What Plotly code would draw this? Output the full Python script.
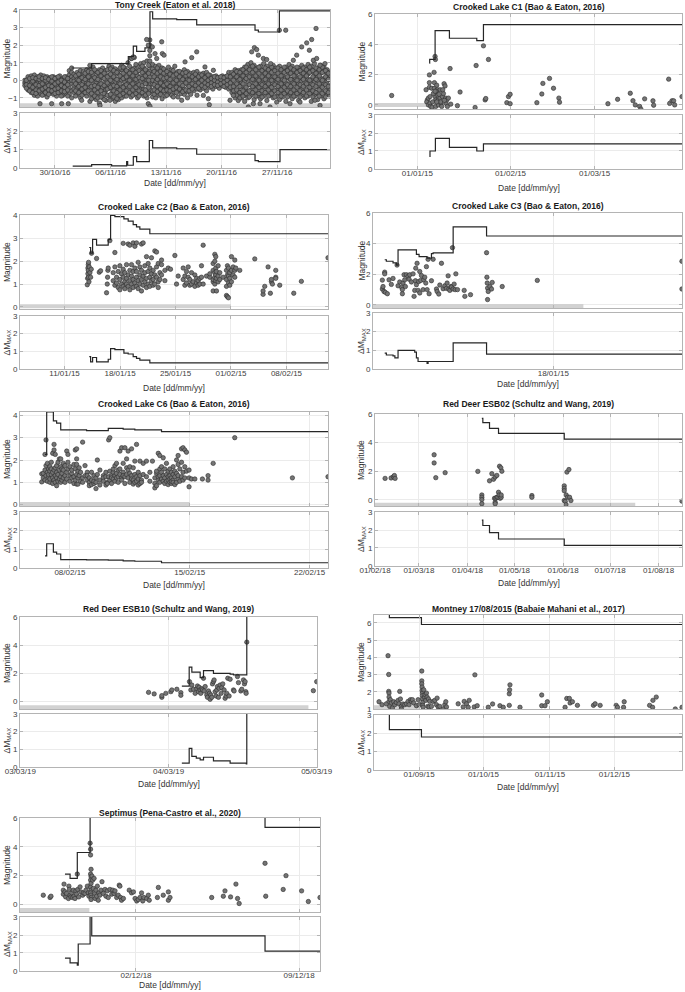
import pandas as pd
import plotly.graph_objects as go

W, H = 685, 992
FONT = "Liberation Sans, Arial, Helvetica, sans-serif"

# ====================== DATA ======================
# ---- Tony Creek (days after 2016-10-30) ----
tony_cols = [
    (-3.8, [-0.15, -0.3, 0.0]), (-3.4, [-0.1, -0.35, 0.1, -0.55, 0.2]),
    (-3.0, [-0.2, -0.5, 0.05, 0.25, -0.7]), (-2.6, [-0.3, 0.1, -0.6, -0.15, 0.3, -0.85]),
    (-2.2, [-0.4, 0.0, -0.2, 0.2, -0.65, -0.9]), (-1.8, [-0.1, -0.45, 0.15, -0.75, 0.3, -0.3]),
    (-1.4, [-0.25, 0.05, -0.55, 0.25, -0.8, -0.05]), (-1.0, [-0.35, -0.1, 0.1, -0.6, 0.2, -0.95]),
    (-0.6, [-0.2, -0.5, 0.0, 0.15, -0.7, -0.35]), (-0.2, [-0.15, -0.45, 0.1, -0.8, 0.2, -0.3]),
    (0.2, [-0.3, 0.0, -0.6, 0.15, -0.9, -0.1]), (0.6, [-0.4, -0.15, 0.05, -0.7, 0.25, -0.55]),
    (1.0, [-0.2, -0.5, 0.1, -0.85, 0.0, -0.35]), (1.4, [-0.3, 0.05, -0.6, -0.15, 0.2, -0.75]),
    (1.8, [-0.1, 0.3, -0.45, -0.8, 0.55, 0.1]), (2.1, [0.7, 0.45, 0.2, -0.2, -0.6, -1.0, 0.0]),
    (2.4, [-0.3, 0.1, -0.7, 0.35, -0.5, -0.05]), (2.8, [-0.45, -0.1, 0.2, -0.8, 0.45, -0.25, 0.05]),
    (3.2, [-0.2, 0.3, -0.6, -1.0, 0.1, -0.4, 0.55]), (3.6, [-0.35, 0.0, -0.75, 0.25, -0.5, 0.5, -0.1]),
    (4.0, [-0.15, 0.35, -0.55, -0.9, 0.1, -0.3, 0.6]), (4.4, [0.85, 0.6, 0.3, 0.0, -0.4, -0.8, -1.2, 0.15]),
    (4.8, [0.75, 0.4, -0.2, -0.6, -1.0, 0.1, -0.4]), (5.2, [-0.3, 0.2, -0.7, 0.5, -0.1, -1.1, 0.05]),
    (5.6, [-0.5, 0.0, 0.35, -0.85, -0.25, 0.6, -1.3]), (6.0, [-0.2, 0.45, -0.6, 0.15, -1.0, -0.4, 0.7]),
    (6.4, [0.0, -0.35, 0.55, -0.8, 0.25, -1.15, -0.55]), (6.8, [-0.45, 0.3, -0.1, 0.65, -0.9, -0.25, 0.8]),
    (7.2, [0.1, -0.6, 0.5, -0.3, -1.05, 0.75, -0.05]), (7.6, [-0.2, 0.4, -0.75, 0.1, -1.2, 0.65, -0.45]),
    (8.0, [0.0, -0.5, 0.35, -0.9, 0.55, -0.25, -1.1]), (8.4, [-0.35, 0.2, -0.7, 0.6, 0.0, -1.0, 0.85]),
    (8.8, [-0.1, 0.45, -0.55, -0.9, 0.15, 0.7, -0.3]), (9.2, [0.2, -0.4, 0.5, -0.75, 0.0, 1.0, -0.2]),
    (9.6, [-0.25, 0.3, -0.6, 0.6, 0.05, -0.95, 1.25]), (10.0, [0.1, -0.45, 0.4, -0.8, 0.7, -0.15, 1.3]),
    (10.4, [-0.05, 0.5, -0.6, 0.25, -1.0, 0.8, -0.3]), (10.8, [0.2, -0.35, 0.6, -0.75, 0.0, 0.95, -0.55]),
    (11.2, [-0.15, 0.4, -0.5, 0.7, -0.9, 0.1, 1.0]), (11.6, [0.3, -0.2, 0.55, -0.65, 0.0, 1.1, -1.0]),
    (11.95, [2.3, 2.0, 1.7, 1.4, 1.1, 0.8, 0.5, 0.2, -0.1, -0.4, -0.7]),
    (12.3, [-0.2, 0.35, -0.6, 0.65, 0.0, -0.95, 0.9]), (12.7, [0.15, -0.4, 0.5, -0.7, 0.8, -0.1, -1.0]),
    (13.1, [-0.3, 0.25, -0.55, 0.6, 0.0, 0.85, -0.85]), (13.5, [0.05, -0.45, 0.4, -0.7, 0.7, -0.2, -1.05]),
    (13.9, [-0.1, 0.3, -0.6, 0.55, -0.35, 0.0, -0.9]), (14.3, [0.2, -0.3, 0.45, -0.75, 0.05, -0.5, 0.75]),
    (14.7, [-0.2, 0.35, -0.55, 0.6, -0.05, -0.85]), (15.1, [0.1, -0.4, 0.4, -0.7, 0.8, -0.15]),
    (15.5, [-0.3, 0.2, -0.6, 0.5, 0.0, -0.95]), (15.9, [0.05, -0.35, 0.45, -0.75, 0.25, -0.55]),
    (16.3, [-0.15, 0.3, -0.5, 0.6, 0.0, -0.8]), (16.7, [0.2, -0.25, 0.5, -0.65, 0.05, -1.0]),
    (17.1, [-0.05, 0.4, -0.45, 0.2, -0.8]), (17.5, [0.15, -0.3, 0.45, -0.6, 0.0]),
    (17.9, [-0.1, 0.3, -0.5, 0.5, -0.85]), (18.3, [0.05, -0.3, 0.35, -0.55, 0.15]),
    (18.7, [-0.15, 0.2, -0.45, 0.4]), (19.1, [0.0, -0.3, 0.25, -0.6, 0.45]),
    (19.5, [-0.1, 0.15, -0.4, 0.3]), (19.9, [0.05, -0.25, 0.2, -0.5]),
    (20.3, [-0.15, 0.1, -0.35, 0.25]), (20.7, [0.0, -0.2, 0.15, -0.45]),
    (21.1, [-0.1, 0.1, -0.3, 0.25]), (21.5, [0.05, -0.2, 0.2, -0.4]),
    (21.9, [0.1, -0.15, 0.3, -0.5, 0.45]), (22.3, [-0.1, 0.25, -0.45, 0.45, -0.7]),
    (22.7, [0.1, -0.3, 0.4, -0.7, 0.6, -1.0]), (23.1, [-0.2, 0.3, -0.55, 0.55, -0.85, 0.0, -1.15]),
    (23.5, [0.15, -0.35, 0.6, -0.7, 0.35, -1.0, -0.1]), (23.9, [-0.05, 0.45, -0.5, 0.75, -0.85, 0.2, -1.2]),
    (24.3, [0.3, -0.25, 0.6, -0.65, 0.05, -1.0, 0.9]), (24.7, [-0.15, 0.4, -0.55, 0.75, -0.85, 0.15, 1.0]),
    (25.1, [0.2, -0.35, 0.55, -0.7, 0.0, 0.85, -1.1]), (25.5, [-0.1, 0.35, -0.6, 0.7, -0.9, 0.15, -0.3]),
    (25.9, [0.1, -0.4, 0.5, -0.75, 0.8, -0.15, -1.05]), (26.3, [-0.2, 0.3, -0.55, 0.6, -0.9, 0.05, 0.95]),
    (26.7, [0.15, -0.35, 0.5, -0.7, 0.8, -0.1, -1.15]), (27.1, [-0.05, 0.4, -0.5, 0.65, -0.85, 0.2, -0.3]),
    (27.5, [0.2, -0.3, 0.55, -0.65, 0.0, 0.85, -1.0]), (27.9, [-0.15, 0.35, -0.55, 0.7, -0.9, 0.1]),
    (28.3, [0.1, -0.4, 0.45, -0.75, 0.8, -0.2, -1.1]), (28.7, [-0.1, 0.3, -0.6, 0.6, -0.95, 0.05, -0.35]),
    (29.1, [0.15, -0.35, 0.5, -0.7, 0.75, -0.15, -1.2]), (29.5, [-0.2, 0.35, -0.55, 0.65, -0.85, 0.1, 0.9]),
    (29.9, [0.05, -0.4, 0.45, -0.75, 0.8, -0.1, -1.05]), (30.3, [-0.15, 0.3, -0.6, 0.55, -0.9, 0.15]),
    (30.7, [0.1, -0.35, 0.5, -0.7, 0.7, -0.2, -1.15]), (31.1, [-0.05, 0.4, -0.5, 0.6, -0.85, 0.2, 0.85]),
    (31.5, [0.15, -0.3, 0.45, -0.65, 0.75, -0.1, -1.0]), (31.9, [-0.2, 0.35, -0.55, 0.65, -0.9, 0.05, 0.9]),
    (32.3, [0.05, -0.4, 0.5, -0.7, 0.8, -0.2, -1.2]), (32.7, [-0.1, 0.3, -0.6, 0.6, -0.85, 0.15, 0.95]),
    (33.1, [0.2, -0.35, 0.45, -0.75, 0.7, -0.05, -1.1]), (33.5, [-0.15, 0.4, -0.5, 0.65, -0.9, 0.1, 0.85]),
    (33.9, [0.1, -0.3, 0.5, -0.7, 0.75, -0.2, -1.05]), (34.3, [-0.05, 0.35, -0.55, 0.6, -0.85, 0.15]),
    (34.6, [0.1, -0.3, 0.45, -0.6, 0.3, -0.9]),
]
tony_cols_mid = [
    (-3.6, [-0.25, -0.45, 0.0]), (-3.2, [-0.3, 0.1, -0.6]), (-2.8, [-0.05, -0.4, 0.15, -0.7]),
    (-2.4, [-0.25, -0.55, 0.1, -0.75]), (-2.0, [-0.3, 0.05, -0.6, 0.2]), (-1.6, [-0.2, -0.5, 0.1, -0.85]),
    (-1.2, [-0.4, 0.0, -0.7, 0.15]), (-0.8, [-0.3, 0.05, -0.55, -0.8]), (-0.4, [-0.05, -0.35, 0.2, -0.6]),
    (0.0, [-0.2, -0.5, 0.1, -0.75]), (0.4, [-0.1, -0.45, 0.2, -0.7]), (0.8, [-0.3, 0.0, -0.6, -0.9]),
    (1.2, [-0.1, -0.4, 0.2, -0.65]), (1.6, [-0.25, 0.1, -0.55, -0.9]), (2.6, [-0.2, 0.25, -0.6, -0.9]),
    (3.0, [0.0, -0.35, 0.35, -0.7]), (3.4, [-0.25, 0.15, -0.5, -0.85]), (3.8, [0.05, -0.4, 0.4, -0.7]),
    (4.2, [-0.2, 0.2, -0.6, 0.5]), (4.6, [0.0, -0.35, 0.45, -0.75, -1.05]), (5.0, [-0.3, 0.15, -0.55, 0.6, -0.9]),
    (5.4, [0.05, -0.4, 0.45, -0.7, -1.0]), (5.8, [-0.2, 0.25, -0.6, 0.55, -0.95]),
    (6.2, [0.1, -0.3, 0.4, -0.75, -1.1]), (6.6, [-0.15, 0.2, -0.5, 0.6, -0.85]),
    (7.0, [0.0, -0.4, 0.35, -0.8, 0.65]), (7.4, [-0.3, 0.2, -0.6, 0.55, -0.95]),
    (7.8, [0.05, -0.35, 0.45, -0.7, -1.05]), (8.2, [-0.2, 0.25, -0.55, 0.7, -0.85]),
    (8.6, [0.1, -0.4, 0.4, -0.75, 0.75]), (9.0, [-0.25, 0.2, -0.6, 0.55, -0.9]),
    (9.4, [0.0, -0.35, 0.4, -0.7, 0.8]), (9.8, [-0.2, 0.25, -0.55, 0.6, -0.85]),
    (10.2, [0.05, -0.4, 0.45, -0.75, 0.9]), (10.6, [-0.25, 0.15, -0.6, 0.55, -0.9]),
    (11.0, [0.1, -0.3, 0.45, -0.7, 0.8]), (11.4, [-0.2, 0.25, -0.55, 0.6, -0.85]),
    (11.8, [0.0, -0.4, 0.4, -0.75, 0.85]), (12.5, [-0.25, 0.2, -0.55, 0.5, -0.8]),
    (12.9, [0.05, -0.35, 0.4, -0.65, 0.7]), (13.3, [-0.15, 0.2, -0.5, 0.5, -0.8]),
    (13.7, [0.1, -0.3, 0.4, -0.6, 0.65]), (14.1, [-0.2, 0.15, -0.55, 0.5, -0.85]),
    (14.5, [0.05, -0.35, 0.35, -0.6]), (14.9, [-0.15, 0.25, -0.5, 0.55]),
    (15.3, [0.0, -0.4, 0.35, -0.7]), (15.7, [-0.2, 0.2, -0.5, 0.5]), (16.1, [0.05, -0.3, 0.4, -0.65]),
    (16.5, [-0.15, 0.25, -0.55, 0.45]), (16.9, [0.0, -0.35, 0.3, -0.6]), (17.3, [-0.2, 0.2, -0.5]),
    (17.7, [0.05, -0.3, 0.35]), (18.1, [-0.15, 0.2, -0.45]), (18.5, [0.0, -0.3, 0.3]),
    (18.9, [-0.15, 0.15, -0.4]), (19.3, [0.0, -0.25, 0.3]), (19.7, [-0.15, 0.1, -0.35]),
    (20.1, [0.0, -0.25, 0.2]), (20.5, [-0.1, 0.15, -0.3]), (20.9, [0.05, -0.2, 0.2]),
    (21.3, [-0.1, 0.15, -0.35]), (21.7, [0.0, -0.25, 0.25]), (22.1, [-0.15, 0.2, -0.4]),
    (22.5, [0.0, -0.35, 0.35, -0.6]), (22.9, [-0.2, 0.2, -0.55, 0.5, -0.85]),
    (23.3, [0.05, -0.35, 0.45, -0.7, -1.0]), (23.7, [-0.2, 0.25, -0.6, 0.6, -0.9]),
    (24.1, [0.1, -0.4, 0.45, -0.75, 0.75]), (24.5, [-0.25, 0.2, -0.6, 0.6, -0.95]),
    (24.9, [0.05, -0.35, 0.45, -0.7, 0.8]), (25.3, [-0.2, 0.25, -0.55, 0.6, -0.9]),
    (25.7, [0.0, -0.4, 0.4, -0.75, 0.75]), (26.1, [-0.25, 0.2, -0.6, 0.55, -0.95]),
    (26.5, [0.05, -0.35, 0.4, -0.7, 0.7]), (26.9, [-0.2, 0.25, -0.55, 0.6, -0.9]),
    (27.3, [0.0, -0.4, 0.45, -0.75, 0.75]), (27.7, [-0.25, 0.2, -0.6, 0.55, -0.95]),
    (28.1, [0.05, -0.35, 0.4, -0.7, 0.7]), (28.5, [-0.2, 0.25, -0.55, 0.6, -0.9]),
    (28.9, [0.0, -0.4, 0.45, -0.75, 0.75]), (29.3, [-0.25, 0.2, -0.6, 0.55, -0.95]),
    (29.7, [0.05, -0.35, 0.4, -0.7, 0.7]), (30.1, [-0.2, 0.25, -0.55, 0.6, -0.9]),
    (30.5, [0.0, -0.4, 0.45, -0.75, 0.75]), (30.9, [-0.25, 0.2, -0.6, 0.55, -0.95]),
    (31.3, [0.05, -0.35, 0.4, -0.7, 0.7]), (31.7, [-0.2, 0.25, -0.55, 0.6, -0.9]),
    (32.1, [0.0, -0.4, 0.45, -0.75, 0.75]), (32.5, [-0.25, 0.2, -0.6, 0.55, -0.95]),
    (32.9, [0.05, -0.35, 0.4, -0.7, 0.7]), (33.3, [-0.2, 0.25, -0.55, 0.6, -0.9]),
    (33.7, [0.0, -0.4, 0.45, -0.75, 0.75]), (34.1, [-0.25, 0.2, -0.6, 0.55, -0.95]),
    (34.45, [0.05, -0.35, 0.4, -0.7]),
]
tony_outliers = [
    (-1.89, -1.33), (-0.42, -1.33), (0.84, -1.33), (1.68, -1.33), (3.36, -1.14), (5.67, -1.43),
    (6.93, -1.14), (9.66, 1.24), (9.87, 1.33), (11.55, 2.32), (11.76, 2.0), (12.27, 1.9),
    (12.61, 1.52), (12.82, 1.24), (13.45, 2.19), (13.53, 1.52), (13.74, 1.43), (11.76, -1.33),
    (11.97, -1.48), (14.92, -0.95), (15.97, -1.14), (16.39, 1.05), (17.23, 1.29), (17.86, 1.62),
    (18.7, -0.86), (19.45, -1.39), (19.33, -1.05), (18.9, 0.76), (19.96, 0.57), (22.06, -1.14),
    (22.48, -0.86), (24.37, -1.52), (25.0, -1.33), (25.84, -1.33), (27.1, -1.52), (27.94, -1.24),
    (24.79, 1.62), (25.13, 1.86), (25.42, 1.75), (25.63, 1.43), (26.26, 1.24), (26.68, 1.18),
    (27.18, 0.95), (28.28, 2.85), (29.08, 2.85), (30.04, 1.14), (30.46, 1.43), (31.09, 1.9),
    (31.72, 2.13), (32.06, 1.71), (32.35, 2.32), (32.9, 2.95), (32.56, 1.14), (32.98, 1.24),
    (29.62, -1.33), (30.88, -1.24), (32.77, -1.14), (33.4, -1.43), (33.4, 0.86), (34.03, 0.95),
]
tony_mmax = [(2.1, 0.7), (4.62, 0.95), (9.24, 1.35), (9.87, 1.95), (10.29, 1.65), (11.34, 1.85),
             (11.97, 3.9), (12.31, 3.5), (15.34, 3.45), (17.86, 3.15), (25.21, 2.85), (25.63, 2.75),
             (28.28, 3.95), (34.7, 3.95)]
tony_dm = [(2.23, 0.1), (4.62, 0.18), (7.14, 0.12), (9.03, 0.35), (9.16, 0.15), (9.87, 0.62),
           (10.29, 0.35), (11.89, 1.5), (12.31, 1.1), (15.34, 1.05), (17.86, 0.75), (25.21, 0.4),
           (25.63, 0.35), (28.36, 1.0), (34.7, 1.0)]
tony_mc = [(-4.5, -1.42), (34.7, -1.42)]

# ---- Crooked Lake C1 (days after 2015-01-01) ----
c1_pts = [
    (-8.56, 0.62), (2.89, 1.0), (3.33, 0.33), (3.11, 0.2), (3.67, 0.0), (3.67, 0.45), (4.0, 1.98),
    (4.0, 1.47), (4.0, 1.16), (4.22, 0.55), (4.22, 0.1), (4.44, -0.1), (4.78, 1.1), (4.89, -0.15),
    (5.56, 2.15), (5.67, 1.47), (5.67, 1.1), (5.89, 3.2), (6.0, 3.0), (5.89, 0.55), (6.11, 0.33),
    (6.11, -0.1), (6.44, 1.3), (6.67, 1.0), (6.78, 0.65), (7.0, 0.33), (7.0, 0.0), (7.56, 1.0),
    (7.56, 0.45), (7.89, 0.1), (8.11, -0.1), (8.33, 0.55), (8.67, 0.75), (8.89, 1.4), (9.22, 1.25),
    (9.44, 0.45), (9.56, 0.1), (9.78, 0.33), (10.0, -0.1), (10.33, 0.45), (10.89, 2.4), (11.11, 0.05),
    (13.33, -0.05), (14.22, 0.85), (19.22, -0.17), (19.56, 2.6), (22.0, 3.9), (22.56, 0.33),
    (22.78, 0.42), (23.67, 3.0), (29.78, 0.15), (30.33, 0.55), (30.89, 0.7), (30.89, 0.08),
    (39.78, 0.15), (41.44, 0.72), (41.78, 1.42), (44.0, 1.75), (45.33, 1.1), (47.11, 0.45),
    (47.33, 0.18), (63.44, 0.08), (66.67, 0.37), (70.89, 0.77), (71.78, 0.28), (72.56, 0.0),
    (74.0, -0.1), (74.44, -0.28), (75.67, 0.4), (78.44, 0.27), (78.67, -0.02), (83.67, 1.7),
    (84.0, 0.1), (84.78, 0.27), (85.33, 0.27), (85.67, 0.0), (88.11, 0.55), (5.11, 0.2),
    (5.33, 0.75), (6.22, 0.9), (7.22, 0.7), (7.78, 0.2), (8.44, 1.0), (9.0, 0.3), (5.89, 0.9),
    (6.44, 0.2),
]
c1_mmax = [(4.0, 2.75), (4.1, 3.0), (5.9, 4.9), (10.67, 4.4), (19.78, 4.25), (22.0, 5.3), (88.3, 5.3)]
c1_dm = [(4.0, 0.7), (4.2, 1.0), (6.0, 1.7), (10.67, 1.2), (19.78, 1.0), (22.0, 1.4), (88.3, 1.4)]
c1_mc = [(-14.2, 0.0), (3.7, 0.0)]

# ---- Crooked Lake C2 (days after 2015-01-25) ----
c2_cols = [
    (-11.13, [0.97]), (-11.09, [1.25]), (-11.05, [1.45, 1.7]), (-11.0, [1.85, 1.6]),
    (-10.97, [1.3, 1.95]), (-10.92, [1.1]), (-10.88, [1.75]), (-10.8, [1.5]), (-10.71, [1.3]),
    (-10.63, [1.65]), (-10.59, [2.35]), (-9.96, [2.12]), (-9.62, [1.52]), (-9.45, [1.58]),
    (-8.7, [0.62]), (-8.61, [1.0]), (-8.57, [1.3]), (-8.53, [1.6]), (-8.49, [1.7]), (-8.28, [2.9]),
    (-7.86, [1.15, 1.5]), (-7.65, [0.95, 1.75, 2.38]), (-7.44, [1.3, 1.05]), (-7.23, [1.55, 0.85]),
    (-7.02, [1.2, 1.8, 0.75]), (-6.81, [1.0, 1.45]), (-6.6, [1.3, 0.9, 1.65, 2.78]),
    (-6.39, [1.1, 1.5, 0.8]), (-6.18, [1.25, 1.85, 1.0]), (-5.97, [0.9, 1.4, 2.75]),
    (-5.76, [1.15, 1.6, 0.75, 2.7]), (-5.55, [1.0, 1.35, 1.85]), (-5.34, [1.2, 0.85, 1.55, 2.8]),
    (-5.13, [1.05, 1.7, 2.65]), (-4.92, [1.3, 0.9, 2.8, 1.55]), (-4.71, [1.15, 1.95, 0.8]),
    (-4.5, [1.4, 1.0, 1.75]), (-4.29, [1.2, 0.7, 2.75, 1.6]), (-4.08, [1.35, 0.95, 2.8]),
    (-3.87, [1.1, 1.8, 1.5]), (-3.66, [1.25, 0.85, 2.2]), (-3.45, [1.55, 1.0, 1.9]),
    (-3.24, [1.3, 0.9, 1.7]), (-3.03, [1.15, 1.45, 2.15]), (-2.82, [1.2, 1.6, 0.95]),
    (-2.61, [1.4, 2.45, 1.0]), (-2.39, [1.3, 2.4, 1.75]), (-2.18, [1.1, 1.9, 0.85]),
    (-1.97, [1.5, 1.2]), (-1.76, [1.85, 2.05, 1.4]), (-1.34, [1.15, 1.6]), (-0.92, [1.7]),
    (-0.63, [1.65]), (-0.08, [2.25]), (0.13, [1.0]), (0.34, [1.35]), (0.97, [1.2, 1.7]),
    (1.18, [1.35, 0.95]), (1.39, [1.05, 1.55]), (1.6, [1.75, 1.3]), (1.81, [0.95, 1.2]),
    (2.02, [1.5, 1.0]), (2.23, [1.1]), (2.44, [0.9, 1.4]), (2.65, [1.25, 1.05]), (2.86, [1.15, 0.95]),
    (3.07, [1.0, 1.25]), (3.28, [1.8, 1.3]), (3.49, [2.7, 1.0]), (3.91, [1.35]), (4.33, [1.3, 1.45]),
    (4.75, [1.1, 1.6, 1.9, 1.2, 0.7]), (4.96, [2.3, 1.5, 1.0, 1.3, 2.0]), (5.08, [1.7, 1.4, 1.15, 2.2]),
    (5.17, [1.25, 1.55, 0.7]), (5.38, [1.35, 1.1, 1.8]), (5.59, [1.2, 1.5]), (6.01, [1.3]),
    (6.43, [1.6, 1.2, 0.9, 0.5]), (6.55, [1.8, 1.4, 0.45]), (6.68, [1.05, 1.35, 0.4, 1.7]),
    (6.85, [1.5, 0.95, 1.25]), (7.06, [2.2, 1.1, 1.6]), (7.27, [1.4, 1.75]), (7.48, [2.05, 1.3, 1.6]),
    (7.61, [1.7]), (8.11, [1.6]), (10.0, [2.1]), (11.05, [0.55, 0.7]), (11.26, [0.9]), (11.68, [1.75]),
    (11.97, [0.6]), (12.1, [1.1, 1.2]), (12.23, [1.0]), (12.65, [1.6, 1.3, 1.25]), (13.15, [0.95]),
    (14.92, [0.6]), (15.88, [1.12]), (19.24, [2.15]),
]
c2_mmax = [(-10.88, 2.6), (-10.71, 2.35), (-10.46, 2.95), (-9.96, 2.7), (-8.49, 2.95), (-8.19, 4.0),
           (-7.65, 3.95), (-6.51, 3.85), (-5.97, 3.75), (-5.34, 3.6), (-4.92, 3.5), (-4.5, 3.4),
           (-3.24, 3.2), (19.4, 3.2)]
c2_dm = [(-10.88, 0.7), (-10.71, 0.4), (-10.46, 0.65), (-9.96, 0.4), (-8.49, 0.55), (-8.19, 1.15),
         (-7.65, 1.1), (-6.51, 0.9), (-5.97, 0.85), (-5.34, 0.7), (-4.92, 0.6), (-4.5, 0.5),
         (-3.24, 0.35), (19.4, 0.35)]
c2_mc = [(-19.7, 0.03), (7.0, 0.03)]

# ---- Crooked Lake C3 (days after 2015-01-11) ----
c3_pts = [
    (0.363, 1.04), (0.363, 1.62), (0.389, 1.2), (0.428, 0.88), (0.454, 2.14), (0.454, 2.03),
    (0.48, 0.82), (0.558, 0.73), (0.623, 1.64), (0.713, 1.34), (0.778, 1.73), (0.934, 2.6),
    (0.973, 1.25), (1.038, 1.5), (1.115, 1.14), (1.141, 1.0), (1.141, 0.73), (1.167, 1.43),
    (1.206, 1.97), (1.232, 1.64), (1.258, 1.2), (1.297, 1.97), (1.362, 1.86), (1.401, 1.68),
    (1.427, 1.97), (1.492, 1.5), (1.556, 2.03), (1.595, 0.56), (1.621, 0.95), (1.647, 1.58),
    (1.66, 2.4), (1.686, 1.32), (1.712, 2.72), (1.751, 0.95), (1.777, 1.53), (1.816, 0.78),
    (1.816, 2.18), (1.855, 1.6), (1.881, 1.92), (1.946, 1.0), (1.971, 1.64), (2.01, 1.81),
    (2.049, 1.43), (2.075, 2.5), (2.101, 1.0), (2.14, 2.98), (2.179, 0.73), (2.27, 1.58),
    (2.335, 2.98), (2.464, 1.04), (2.49, 0.88), (2.555, 0.71), (2.594, 1.3), (2.659, 2.72),
    (2.724, 1.06), (2.789, 1.25), (2.853, 1.08), (2.879, 1.43), (2.918, 1.9), (2.944, 1.04),
    (2.983, 0.95), (3.022, 1.2), (3.048, 1.17), (3.087, 3.74), (3.113, 1.04), (3.152, 1.36),
    (3.191, 1.0), (3.217, 2.03), (3.281, 1.0), (3.541, 0.95), (3.567, 0.56), (3.787, 0.67),
    (4.41, 3.41), (4.423, 1.81), (4.436, 1.43), (4.449, 1.1), (4.449, 0.35), (4.475, 0.88),
    (4.54, 1.2), (4.604, 1.04), (4.63, 1.47), (5.019, 1.2), (6.381, 1.6), (11.997, 2.85),
    (11.997, 1.04),
]
c3_mmax = [(0.454, 2.95), (0.519, 2.85), (0.778, 2.75), (0.908, 2.6), (0.973, 3.6), (1.686, 3.3),
           (1.79, 3.15), (2.1, 3.05), (2.27, 3.35), (2.335, 3.4), (3.113, 5.1), (4.41, 4.5), (12.1, 4.5)]
c3_dm = [(0.454, 0.85), (0.519, 0.75), (0.778, 0.7), (0.85, 0.6), (0.973, 1.0), (1.62, 0.9),
         (1.686, 0.6), (1.75, 0.4), (2.1, 0.3), (2.14, 0.4), (3.113, 1.4), (4.41, 0.8), (12.1, 0.8)]
c3_mc = [(-0.1, -0.07), (8.17, -0.07)]

# ---- Crooked Lake C6 (days after 2015-02-08) ----
c6_cols = [
    (-1.65, [1.38, 1.02]), (-1.56, [1.4, 1.2]), (-1.46, [2.25, 1.55, 1.1]), (-1.4, [2.9, 1.3, 1.75]),
    (-1.32, [1.45, 1.05, 1.85]), (-1.25, [1.6, 1.25, 1.35]), (-1.17, [1.5, 1.0, 1.15, 1.7]),
    (-1.09, [1.35, 1.6, 1.9]), (-1.01, [1.2, 1.45, 2.3, 0.95]), (-0.93, [2.45, 1.55, 1.1, 2.7]),
    (-0.86, [1.3, 1.0, 2.25, 1.65]), (-0.78, [1.2, 0.85, 1.45, 1.75]), (-0.7, [1.05, 1.35, 1.9]),
    (-0.62, [1.55, 1.15, 2.05]), (-0.54, [1.0, 1.25, 1.7, 2.05]), (-0.47, [1.4, 1.1, 1.6]),
    (-0.39, [1.2, 1.55, 1.85]), (-0.29, [1.0, 1.3, 1.75]), (-0.19, [1.15, 1.45, 2.4]),
    (-0.12, [1.6, 2.25, 1.9]), (0.0, [1.3, 1.05, 1.7]), (0.1, [1.4, 1.55, 1.2]), (0.23, [0.95, 1.25, 1.8]),
    (0.31, [1.1, 1.6, 2.45]), (0.39, [1.35, 0.92, 2.5, 1.8, 2.05]), (0.47, [1.2, 1.5, 0.92]),
    (0.54, [1.3, 1.65]), (0.62, [1.05, 1.45]), (0.74, [2.8, 1.2, 1.0]), (0.88, [1.75, 1.3]),
    (1.01, [1.1, 1.45, 1.3]), (1.13, [1.0, 1.2, 0.85]), (1.26, [1.45, 1.1, 0.9]), (1.4, [0.95, 1.3, 1.05]),
    (1.52, [0.72, 1.2, 1.0]), (1.6, [2.0, 1.35]), (1.75, [1.55, 1.1, 0.88]), (1.95, [1.3, 1.2, 1.05]),
    (2.1, [1.45, 1.25, 0.88]), (2.18, [1.0, 0.95]), (2.26, [1.25, 2.9]), (2.33, [3.0, 1.1, 1.5]),
    (2.43, [1.3, 0.95, 1.2]), (2.53, [1.15, 1.45, 1.6]), (2.63, [1.75, 1.3, 1.05]), (2.72, [1.4, 1.85, 1.2]),
    (2.82, [1.55, 1.0, 1.25]), (2.92, [2.4, 1.35, 1.6]), (3.02, [2.55, 1.2, 1.1]), (3.11, [1.45, 1.85, 1.3]),
    (3.21, [2.55, 1.25, 0.95]), (3.31, [1.65, 2.05, 1.35]), (3.4, [2.4, 1.2, 1.55]), (3.5, [1.0, 1.4, 1.7]),
    (3.6, [2.5, 1.3, 1.15]), (3.7, [1.65, 1.1, 0.92]), (3.79, [1.35, 1.95, 1.0]), (3.89, [2.7, 1.25, 1.05]),
    (3.99, [0.88, 1.45, 1.15]), (4.09, [1.95, 1.3, 0.95]), (4.18, [1.1, 1.0]), (4.28, [1.85, 1.35]),
    (4.47, [1.95, 1.25]), (4.67, [1.45, 1.05]), (4.82, [1.95]), (4.96, [0.75, 0.95, 1.2]),
    (5.06, [1.4, 0.85, 1.5]), (5.16, [2.3, 1.1, 1.25]), (5.25, [2.2, 1.0, 1.6, 1.3]),
    (5.35, [1.15, 1.45, 1.7]), (5.45, [2.1, 1.05, 1.3]), (5.54, [1.2, 1.6, 0.95]), (5.64, [1.35, 1.05, 1.85]),
    (5.74, [1.1, 1.5, 1.25, 0.9]), (5.84, [1.3, 1.0, 1.15, 1.6]), (5.93, [1.2, 1.45, 0.95, 1.05]),
    (6.03, [1.35, 1.1, 1.7, 1.0]), (6.13, [1.25, 1.5, 0.9]), (6.23, [1.0, 1.4, 2.0]),
    (6.32, [1.15, 1.3, 1.8, 2.2]), (6.42, [1.6, 1.05]), (6.52, [2.5, 1.25, 1.9]), (6.61, [2.55, 1.45, 1.1]),
    (6.71, [2.45, 1.7, 1.2]), (6.81, [2.35, 1.5]), (6.96, [0.8, 1.2, 1.55]), (7.1, [1.15]), (7.3, [1.15]),
    (7.74, [1.15]), (8.07, [1.1, 1.3]), (8.37, [1.85]), (9.63, [3.0]), (13.0, [1.2]), (15.08, [1.25]),
]
c6_mmax = [(-1.46, 2.25), (-1.36, 4.15), (-0.97, 3.75), (-0.78, 3.65), (-0.54, 3.35), (0.97, 3.32),
           (2.24, 3.42), (3.11, 3.38), (3.79, 3.35), (5.35, 3.27), (15.2, 3.27)]
c6_dm = [(-1.46, 0.65), (-1.36, 1.3), (-0.97, 0.85), (-0.78, 0.75), (-0.54, 0.45), (0.97, 0.43),
         (2.24, 0.42), (3.11, 0.38), (3.79, 0.36), (5.35, 0.28), (15.2, 0.28)]
c6_mc = [(-3.0, 0.03), (7.0, 0.03)]

# ---- Red Deer ESB02 (days after 2018-02-01) ----
esb02_pts = [
    (6.39, 1.5), (10.22, 1.53), (11.71, 1.62), (12.35, 1.7), (12.78, 1.5), (37.7, 3.15), (37.7, 2.58),
    (38.76, 1.55), (44.73, 1.9), (65.6, 1.99), (68.16, 0.34), (68.16, 0.18), (68.16, 0.02),
    (68.16, -0.27), (73.06, 1.33), (74.55, 1.83), (75.61, 1.44), (76.68, 1.6), (77.74, 1.71),
    (76.25, 0.11), (76.68, -0.16), (76.68, -0.27), (77.1, 0.11), (77.74, 0.18), (78.38, 0.18),
    (78.81, 0.53), (79.23, 0.34), (79.45, 2.35), (79.87, 0.11), (80.3, 2.24), (80.51, 0.18),
    (80.94, 2.0), (80.51, 0.34), (100.1, 0.3), (100.1, 0.18), (120.77, 0.98), (120.77, 0.8),
    (120.77, 0.64), (120.77, -0.05), (121.41, -0.11), (121.83, -0.34), (122.04, 0.34), (122.47, 1.94),
    (122.9, 0.18), (123.75, 2.12), (124.17, 0.18), (125.03, -0.05), (195.95, -0.09),
]
esb02_mmax = [(68.16, 5.7), (68.8, 5.4), (73.06, 5.0), (78.81, 4.65), (120.77, 4.25), (196.5, 4.25)]
esb02_dm = [(68.16, 2.55), (68.8, 2.25), (73.06, 1.85), (78.81, 1.5), (120.77, 1.15), (196.5, 1.15)]
esb02_mc = [(-1.0, -0.35), (166.1, -0.35)]

# ---- Red Deer ESB10 (hours after 2019-03-03 00:00) ----
esb10_pts = [
    (20.77, 0.66), (21.68, 0.55), (22.92, 0.31), (22.92, 0.43), (23.57, 0.59), (24.38, 0.71),
    (24.54, 0.83), (25.35, 0.88), (26.0, 0.64), (26.0, 0.45), (27.4, 1.42), (27.62, 0.83),
    (27.78, 1.18), (28.05, 0.88), (28.32, 0.59), (28.59, 0.92), (28.69, 1.11), (28.86, 0.71),
    (28.96, 1.02), (29.13, 0.83), (29.23, 0.59), (29.4, 0.92), (29.5, 0.83), (29.67, 1.66),
    (29.77, 0.76), (29.94, 1.07), (30.2, 0.47), (30.31, 0.31), (30.47, 0.76), (30.64, 0.59),
    (30.74, 0.17), (30.85, 0.47), (31.01, 0.31), (31.12, 1.26), (31.28, 1.42), (31.39, 1.54),
    (31.55, 0.71), (31.72, 0.4), (31.82, 0.83), (31.93, 1.07), (32.09, 0.31), (32.2, 0.95),
    (32.36, 1.18), (32.52, 0.59), (32.63, 0.99), (32.79, 1.26), (33.01, 0.83), (33.17, 0.24),
    (33.33, 0.4), (33.44, 0.59), (33.6, 1.66), (33.82, 0.4), (33.98, 1.59), (34.52, 0.83),
    (34.63, 0.76), (35.17, 1.78), (35.33, 1.35), (35.71, 0.76), (35.87, 0.88), (36.14, 1.54),
    (36.3, 1.26), (36.41, 1.42), (36.52, 0.71), (36.57, 0.59), (36.68, 4.22), (47.46, 0.78),
    (48.0, 1.42),
]
esb10_mmax = [(26.16, 1.1), (27.35, 2.45), (27.78, 2.1), (29.13, 1.7), (29.67, 2.2), (31.28, 2.0),
              (33.98, 1.95), (34.52, 1.9), (36.68, 8.0), (48.5, 8.0)]
esb10_dm = [(26.16, 0.22), (27.35, 1.05), (27.78, 0.6), (28.5, 0.5), (29.13, 0.4), (29.67, 0.55),
            (31.28, 0.35), (33.98, 0.22), (36.6, 0.18), (36.68, 5.0), (48.5, 5.0)]
esb10_mc = [(-1.0, -0.4), (46.66, -0.4)]

# ---- Montney 17/08/2015 (days after 2015-09-01) ----
mont_pts = [
    (-18.69, 1.42), (-17.29, 1.25), (-15.26, 1.3), (-14.49, 4.09), (-14.17, 3.0), (-14.17, 2.02),
    (-14.02, 1.92), (-14.02, 1.69), (-14.02, 1.44), (-13.71, 1.15), (-13.4, 1.54), (-12.93, 1.35),
    (-12.46, 1.06), (-11.84, 1.42), (-11.37, 1.25), (-10.59, 1.38), (-9.81, 1.5), (-9.35, 1.3),
    (-9.03, 2.02), (-8.72, 1.58), (-8.26, 1.15), (-8.26, 1.0), (-7.48, 1.29), (-6.7, 1.25),
    (-5.92, 1.3), (-5.14, 1.44), (-4.67, 1.25), (-4.05, 1.54), (-3.58, 1.44), (-3.12, 1.54),
    (-2.49, 1.35), (-1.25, 1.19), (-0.47, 1.54), (0.0, 1.25), (1.25, 3.2), (1.25, 2.63),
    (1.25, 2.46), (1.4, 2.27), (1.4, 2.06), (1.56, 1.92), (1.56, 1.77), (1.56, 1.58), (1.71, 1.38),
    (1.71, 1.21), (1.87, 1.1), (2.18, 2.11), (2.49, 1.69), (2.8, 1.83), (3.12, 1.5), (3.43, 1.92),
    (3.74, 1.69), (4.05, 1.15), (4.36, 1.58), (4.67, 1.12), (4.98, 1.44), (5.76, 1.15), (6.54, 1.44),
    (7.32, 1.5), (8.1, 1.25), (8.41, 1.63), (8.88, 1.12), (9.66, 1.15), (11.21, 1.0), (11.99, 1.25),
    (12.46, 1.42), (12.77, 1.12), (18.22, 1.3), (20.56, 1.12), (21.03, 1.44), (22.12, 1.3),
    (22.9, 1.1), (23.36, 1.5), (26.01, 2.98), (25.7, 1.12), (27.1, 1.19), (32.24, 1.1), (34.27, 1.29),
    (37.69, 1.19), (39.25, 1.1), (42.06, 1.21), (42.06, 1.88), (42.21, 2.11), (42.37, 2.4),
    (47.04, 1.1), (57.17, 1.81), (57.17, 1.19), (58.72, 1.19), (59.81, 1.42), (68.07, 1.1),
    (68.85, 1.61), (70.09, 1.61), (70.4, 1.35), (71.5, 1.42), (73.83, 1.21), (81.31, 1.21),
    (82.09, 1.3), (84.42, 1.21), (91.9, 1.21), (92.52, 1.1), (95.33, 1.1), (95.64, 1.42),
    (107.48, 1.21), (108.88, 1.1), (109.03, 1.5), (110.59, 1.69), (119.47, 1.0), (122.59, 1.1),
]
mont_mmax = [(-14.02, 7.0), (-13.86, 6.3), (1.09, 5.9), (123.0, 5.9)]
mont_dm = [(-14.02, 3.5), (-13.86, 2.2), (1.09, 1.8), (123.0, 1.8)]
mont_mc = [(-22.0, 1.1), (0.3, 1.1)]

# ---- Septimus (days after 2018-12-02) ----
sept_pts = [
    (-3.98, 0.63), (-3.69, 0.47), (-3.65, 0.56), (-3.12, 0.98), (-3.12, 0.7), (-3.09, 1.4),
    (-3.05, 0.86), (-3.02, 0.51), (-2.98, 0.75), (-2.9, 0.4), (-2.88, 1.26), (-2.86, 1.03),
    (-2.83, 0.63), (-2.79, 0.51), (-2.76, 0.79), (-2.72, 0.47), (-2.69, 0.98), (-2.66, 0.56),
    (-2.62, 0.4), (-2.58, 0.93), (-2.55, 0.7), (-2.52, 2.1), (-2.5, 1.03), (-2.46, 0.51),
    (-2.4, 1.21), (-2.36, 0.86), (-2.29, 0.63), (-2.26, 0.79), (-2.19, 0.75), (-2.15, 0.98),
    (-2.09, 1.26), (-2.05, 0.79), (-2.02, 0.56), (-1.97, 4.25), (-1.95, 3.83), (-1.95, 3.43),
    (-1.93, 2.43), (-1.95, 2.1), (-1.93, 1.92), (-1.95, 1.68), (-1.93, 1.45), (-1.95, 1.17),
    (-1.93, 0.98), (-1.95, 0.79), (-1.93, 0.63), (-1.92, 0.47), (-1.93, 0.33), (-1.89, 1.96),
    (-1.86, 1.68), (-1.83, 1.1), (-1.8, 1.8), (-1.77, 0.75), (-1.75, 0.4), (-1.72, 0.98),
    (-1.69, 0.56), (-1.66, 1.26), (-1.62, 0.28), (-1.59, 0.79), (-1.55, 0.63), (-1.5, 0.98),
    (-1.46, 1.57), (-1.4, 0.75), (-1.33, 1.03), (-1.29, 0.56), (-1.23, 0.93), (-1.19, 0.47),
    (-1.12, 1.03), (-1.04, 0.7), (-1.0, 0.98), (-0.94, 0.75), (-0.9, 0.93), (-0.83, 0.47),
    (-0.76, 0.63), (-0.72, 1.33), (-0.69, 1.26), (-0.66, 0.47), (-0.62, 0.28), (-0.54, 0.4),
    (-0.29, 0.98), (-0.19, 0.79), (-0.11, 0.86), (-0.04, 0.4), (0.03, 0.23), (0.1, 0.33),
    (0.17, 0.47), (0.24, 0.79), (0.29, 0.23), (0.34, 0.47), (0.46, 0.4), (0.53, 0.63), (0.57, 0.28),
    (0.92, 0.47), (0.96, 1.17), (1.17, 0.63), (1.39, 0.86), (1.39, 0.28), (1.46, 0.47), (3.25, 0.47),
    (3.75, 0.56), (3.82, 0.93), (4.06, 0.51), (4.29, 1.4), (4.36, 0.4), (4.43, 0.05), (5.54, 2.85),
    (5.57, 0.56), (6.32, 1.03), (6.44, 1.99), (7.11, 0.93), (7.4, 0.19), (7.9, 0.47),
]
sept_mmax = [(-3.05, 2.1), (-2.83, 1.8), (-2.52, 3.6), (-1.97, 8.0), (5.54, 5.35), (8.0, 5.35)]
sept_dm = [(-3.05, 0.72), (-2.83, 0.45), (-2.52, 0.32), (-2.48, 1.5), (-1.97, 3.5), (-1.9, 1.95),
           (5.54, 1.1), (8.0, 1.1)]
sept_mc = [(-5.1, -0.4), (-2.0, -0.4)]

# ---- per-panel options (titles, tick dates, axis ranges as offsets from base) ----
panels = [
    dict(title="Tony Creek (Eaton et al. 2018)", base="2016-10-30", unit="D",
         cols=tony_cols + tony_cols_mid, pts=tony_outliers, mmax=tony_mmax, dm=tony_dm, mc=tony_mc,
         xr=(-4.41, 34.66), ticks=["2016-10-30", "2016-11-06", "2016-11-13", "2016-11-20", "2016-11-27"],
         yr=(-1.52, 4.001), yt=[-1, 0, 1, 2, 3, 4],
         g=(20, 330, 10, 107, 113, 168, 5, 183, 7)),
    dict(title="Crooked Lake C1 (Bao & Eaton, 2016)", base="2015-01-01", unit="D",
         cols=[], pts=c1_pts, mmax=c1_mmax, dm=c1_dm, mc=c1_mc,
         xr=(-14.11, 88.11), ticks=["2015-01-01", "2015-02-01", "2015-03-01"],
         yr=(-0.27, 6.001), yt=[0, 2, 4, 6],
         g=(375, 682, 14, 109, 115, 169, 7, 188, 361)),
    dict(title="Crooked Lake C2 (Bao & Eaton, 2016)", base="2015-01-25", unit="D",
         cols=c2_cols, pts=[], mmax=c2_mmax, dm=c2_dm, mc=c2_mc,
         xr=(-19.62, 19.24), ticks=["2015-01-11", "2015-01-18", "2015-01-25", "2015-02-01", "2015-02-08"],
         yr=(-0.09, 4.02), yt=[0, 1, 2, 3, 4],
         g=(20, 328, 215, 309, 316, 369, 207, 388, 7)),
    dict(title="Crooked Lake C3 (Bao & Eaton, 2016)", base="2015-01-11", unit="D",
         cols=[], pts=c3_pts, mmax=c3_mmax, dm=c3_dm, mc=c3_mc,
         xr=(0.0, 12.0), ticks=["2015-01-18"],
         yr=(-0.2, 6.001), yt=[0, 2, 4, 6],
         g=(373, 682, 213, 308, 313, 369, 206, 384, 361)),
    dict(title="Crooked Lake C6 (Bao & Eaton, 2016)", base="2015-02-08", unit="D",
         cols=c6_cols, pts=[], mmax=c6_mmax, dm=c6_dm, mc=c6_mc,
         xr=(-2.92, 15.08), ticks=["2015-02-08", "2015-02-15", "2015-02-22"],
         yr=(-0.06, 4.15), yt=[0, 1, 2, 3, 4],
         g=(20, 328, 412, 506, 512, 568, 404, 585, 7)),
    dict(title="Red Deer ESB02 (Schultz and Wang, 2019)", base="2018-02-01", unit="D",
         cols=[], pts=esb02_pts, mmax=esb02_mmax, dm=esb02_dm, mc=esb02_mc,
         xr=(-0.05, 195.95), ticks=["2018-02-01", "2018-03-01", "2018-04-01", "2018-05-01",
                                    "2018-06-01", "2018-07-01", "2018-08-01"],
         yr=(-0.43, 6.001), yt=[0, 2, 4, 6],
         g=(375, 682, 414, 506, 512, 566, 404, 583, 361)),
    dict(title="Red Deer ESB10 (Schultz and Wang, 2019)", base="2019-03-03", unit="h",
         cols=[], pts=esb10_pts, mmax=esb10_mmax, dm=esb10_dm, mc=esb10_mc,
         xr=(-0.05, 48.05), ticks=["2019-03-03", "2019-03-04", "2019-03-05"],
         yr=(-0.52, 6.001), yt=[0, 2, 4, 6],
         g=(20, 317, 617, 709, 714, 767, 609, 784, 7)),
    dict(title="Montney 17/08/2015 (Babaie Mahani et al., 2017)", base="2015-09-01", unit="D",
         cols=[], pts=mont_pts, mmax=mont_mmax, dm=mont_dm, mc=mont_mc,
         xr=(-21.03, 122.59), ticks=["2015-09-01", "2015-10-01", "2015-11-01", "2015-12-01"],
         yr=(0.999, 6.45), yt=[1, 2, 3, 4, 5, 6],
         g=(374, 682, 615, 709, 715, 770, 609, 787, 361)),
    dict(title="Septimus (Pena-Castro et al., 2020)", base="2018-12-02", unit="D",
         cols=[], pts=sept_pts, mmax=sept_mmax, dm=sept_dm, mc=sept_mc,
         xr=(-4.98, 7.9), ticks=["2018-12-02", "2018-12-09"],
         yr=(-0.54, 6.001), yt=[0, 2, 4, 6],
         g=(20, 320, 818, 912, 917, 971, 813, 985, 7)),
]

# ====================== FIGURE ======================
def to_dates(base, offsets, unit):
    return pd.Timestamp(base) + pd.to_timedelta(list(offsets), unit=unit)


def dstr(base, off, unit):
    return (pd.Timestamp(base) + pd.to_timedelta(off, unit=unit)).strftime("%Y-%m-%d %H:%M:%S")


AX_LINE = "#b4b4b4"
GRID = "#ebebeb"
TICKFONT = dict(family=FONT, size=8, color="#404040")

fig = go.Figure()
layout = dict(template="none", width=W, height=H, margin=dict(l=0, r=0, t=0, b=0, pad=0),
              paper_bgcolor="white", plot_bgcolor="white", showlegend=False,
              font=dict(family=FONT, color="#262626"))
annotations = []

for i, p in enumerate(panels):
    x0, x1, t0, t1, b0, b1, ty, xly, ylx = p["g"]
    kt, kb = 2 * i + 1, 2 * i + 2
    base, unit = p["base"], p["unit"]
    xt_name = "x" if kt == 1 else f"x{kt}"
    yt_name = "y" if kt == 1 else f"y{kt}"
    xb_name, yb_name = f"x{kb}", f"y{kb}"
    xrange = [dstr(base, p["xr"][0], unit), dstr(base, p["xr"][1], unit)]
    xdom = [x0 / W, x1 / W]

    common_x = dict(type="date", range=xrange, tickvals=p["ticks"], tickformat="%d/%m/%y",
                    showgrid=True, gridcolor=GRID, gridwidth=1, showline=True, linecolor=AX_LINE,
                    linewidth=1, mirror="ticks", ticks="inside", ticklen=3, tickcolor=AX_LINE,
                    tickfont=TICKFONT, zeroline=False, fixedrange=True, domain=xdom,
                    automargin=False)
    common_y = dict(showgrid=True, gridcolor=GRID, gridwidth=1, showline=True, linecolor=AX_LINE,
                    linewidth=1, mirror="ticks", ticks="inside", ticklen=3, tickcolor=AX_LINE,
                    tickfont=TICKFONT, zeroline=False, fixedrange=True, automargin=False)

    layout["xaxis" if kt == 1 else f"xaxis{kt}"] = dict(common_x, anchor=yt_name, showticklabels=False)
    layout[f"xaxis{kb}"] = dict(common_x, anchor=yb_name, showticklabels=True, ticklabelstandoff=-4)
    layout["yaxis" if kt == 1 else f"yaxis{kt}"] = dict(
        common_y, anchor=xt_name, domain=[1 - t1 / H, 1 - t0 / H], range=list(p["yr"]), tickvals=p["yt"])
    layout[f"yaxis{kb}"] = dict(
        common_y, anchor=xb_name, domain=[1 - b1 / H, 1 - b0 / H], range=[-0.001, 3.001], tickvals=[0, 1, 2, 3])

    # completeness band (grey)
    fig.add_trace(go.Scatter(
        x=to_dates(base, [a for a, _ in p["mc"]], unit), y=[b for _, b in p["mc"]],
        mode="lines", line=dict(color="#d2d2d2", width=4), xaxis=xt_name, yaxis=yt_name,
        hoverinfo="skip"))

    # events
    ev_t, ev_m = [], []
    for d, mags in p["cols"]:
        for m in mags:
            ev_t.append(d)
            ev_m.append(m)
    for d, m in p["pts"]:
        ev_t.append(d)
        ev_m.append(m)
    fig.add_trace(go.Scatter(
        x=to_dates(base, ev_t, unit), y=ev_m, mode="markers",
        marker=dict(size=4.4, color="#747474", line=dict(color="#2b2b2b", width=0.6)),
        xaxis=xt_name, yaxis=yt_name, hoverinfo="skip"))

    # Mmax forecast step line
    fig.add_trace(go.Scatter(
        x=to_dates(base, [a for a, _ in p["mmax"]], unit), y=[b for _, b in p["mmax"]],
        mode="lines", line=dict(color="#262626", width=1.2, shape="hv"),
        xaxis=xt_name, yaxis=yt_name, hoverinfo="skip"))

    # Delta Mmax step line
    fig.add_trace(go.Scatter(
        x=to_dates(base, [a for a, _ in p["dm"]], unit), y=[b for _, b in p["dm"]],
        mode="lines", line=dict(color="#262626", width=1.2, shape="hv"),
        xaxis=xb_name, yaxis=yb_name, hoverinfo="skip"))

    # text
    annotations.append(dict(text=f"<b>{p['title']}</b>", x=(x0 + x1) / 2 / W, y=1 - ty / H,
                            xref="paper", yref="paper", showarrow=False, xanchor="center",
                            yanchor="middle", font=dict(size=8.5, color="#1a1a1a", family=FONT)))
    annotations.append(dict(text="Date [dd/mm/yy]", x=(x0 + x1) / 2 / W, y=1 - xly / H,
                            xref="paper", yref="paper", showarrow=False, xanchor="center",
                            yanchor="middle", font=dict(size=8.5, color="#333333", family=FONT)))
    annotations.append(dict(text="Magnitude", x=ylx / W, y=1 - (t0 + t1) / 2 / H,
                            xref="paper", yref="paper", showarrow=False, textangle=-90,
                            xanchor="center", yanchor="middle",
                            font=dict(size=8.5, color="#333333", family=FONT)))
    annotations.append(dict(text="ΔM<sub>MAX</sub>", x=ylx / W, y=1 - (b0 + b1) / 2 / H,
                            xref="paper", yref="paper", showarrow=False, textangle=-90,
                            xanchor="center", yanchor="middle",
                            font=dict(size=8.5, color="#333333", family=FONT)))

layout["annotations"] = annotations
fig.update_layout(**layout)
fig.write_html("out.html", config={"displayModeBar": False},
               post_script="document.body.style.margin='0';document.body.style.padding='0';")
